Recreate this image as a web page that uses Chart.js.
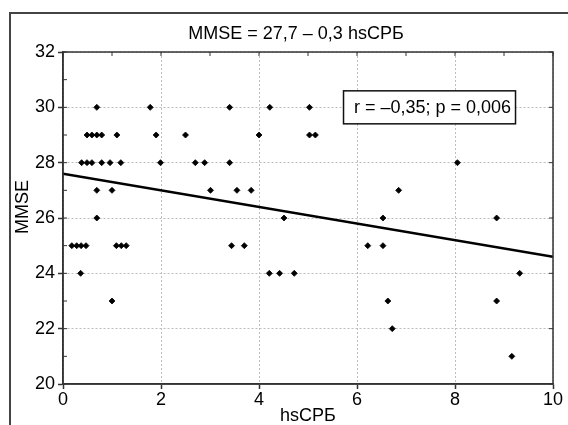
<!DOCTYPE html>
<html>
<head>
<meta charset="utf-8">
<title>MMSE vs hsCRP</title>
<script src="https://cdn.jsdelivr.net/npm/chart.js@4"></script>
<style>
    html, body { margin: 0; padding: 0; background: #fff; overflow: hidden; }
    #wrap { position: relative; width: 568px; height: 425px; }
    #frame {
        position: absolute; left: 9px; top: 12px; width: 600px; height: 450px;
        border-left: 2px solid #444; border-top: 2px solid #444;
    }
    #chart { position: absolute; left: 0; top: 0; }
</style>
</head>
<body>
<div id="wrap">
    <div id="frame"></div>
    <canvas id="chart" width="568" height="425"></canvas>
</div>
<script>

/*
============================================================
Data
============================================================
*/

const hsCrp = [
    0.69, 1.78, 3.40, 4.22, 5.03,
    0.49, 0.59, 0.69, 0.79, 1.10, 1.90, 2.50, 4.00, 5.03, 5.15,
    0.38, 0.49, 0.59, 0.79, 0.96, 1.18, 1.99, 2.70, 2.89, 3.40, 8.05,
    0.69, 1.00, 3.01, 3.55, 3.84, 6.85,
    0.69, 4.51, 6.53, 8.85,
    0.18, 0.28, 0.37, 0.47, 1.09, 1.19, 1.29, 3.44, 3.70, 6.22, 6.53,
    0.36, 4.21, 4.42, 4.72, 9.32,
    1.00, 6.63, 8.85,
    6.72,
    9.16
];

const mmse = [
    30, 30, 30, 30, 30,
    29, 29, 29, 29, 29, 29, 29, 29, 29, 29,
    28, 28, 28, 28, 28, 28, 28, 28, 28, 28, 28,
    27, 27, 27, 27, 27, 27,
    26, 26, 26, 26,
    25, 25, 25, 25, 25, 25, 25, 25, 25, 25, 25,
    24, 24, 24, 24, 24,
    23, 23, 23,
    22,
    21
];

// regression line end points
const fitX = [0, 10];

const fitY = [27.6, 24.6];

const xTicks = [0, 2, 4, 6, 8, 10];

const yTicks = [20, 22, 24, 26, 28, 30, 32];

const chartTitle = "MMSE = 27,7 \u2013 0,3 hsСРБ";

const xTitle = "hsСРБ";

const yTitle = "MMSE";

const statsText = "r = \u20130,35; p = 0,006";

// where the stats box sits, in data units
const statsAt = { x: 7.48, y: 30 };

/*
============================================================
Helpers
============================================================
*/

const FONT = '"Liberation Sans", Arial, sans-serif';

const points = hsCrp.map((x, i) => ({ x, y: mmse[i] }));

const fitPoints = fitX.map((x, i) => ({ x, y: fitY[i] }));

function line(ctx, x1, y1, x2, y2) {

    ctx.beginPath();
    ctx.moveTo(x1, y1);
    ctx.lineTo(x2, y2);
    ctx.stroke();

}

/*
============================================================
Frame, minor ticks and text
============================================================
*/

const decorPlugin = {

    id: "decor",

    afterDraw(chart) {

        const { ctx, chartArea: a, scales } = chart;
        const xs = scales.x;
        const ys = scales.y;

        ctx.save();

        ctx.strokeStyle = "#333";
        ctx.lineWidth = 1.5;
        ctx.strokeRect(a.left, a.top, a.right - a.left, a.bottom - a.top);

        ctx.lineWidth = 1;

        for (let v = xTicks[0]; v <= xTicks[xTicks.length - 1]; v++) {
            const px = xs.getPixelForValue(v);
            line(ctx, px, a.top, px, a.top + 4);
        }

        for (let v = yTicks[0]; v <= yTicks[yTicks.length - 1]; v++) {
            const py = ys.getPixelForValue(v);
            line(ctx, a.left, py, a.left + 4, py);
            if (v % 2 === 0) line(ctx, a.right - 4, py, a.right, py);
        }

        ctx.fillStyle = "#000";
        ctx.font = "18px " + FONT;
        ctx.textAlign = "center";
        ctx.textBaseline = "middle";

        ctx.fillText(chartTitle, 296, 34);

        ctx.fillText(xTitle, (a.left + a.right) / 2, 416);

        ctx.save();
        ctx.translate(23, 207);
        ctx.rotate(-Math.PI / 2);
        ctx.fillText(yTitle, 0, 0);
        ctx.restore();

        // stats box
        const cx = xs.getPixelForValue(statsAt.x);
        const cy = ys.getPixelForValue(statsAt.y);
        const w = 172;
        const h = 33;

        ctx.fillStyle = "#fff";
        ctx.fillRect(cx - w / 2, cy - h / 2, w, h);
        ctx.strokeStyle = "#111";
        ctx.lineWidth = 1.5;
        ctx.strokeRect(cx - w / 2, cy - h / 2, w, h);

        ctx.fillStyle = "#000";
        ctx.fillText(statsText, cx + 3, cy + 1);

        ctx.restore();

    }

};

/*
============================================================
Chart
============================================================
*/

Chart.defaults.font.family = FONT;
Chart.defaults.font.size = 18;
Chart.defaults.color = "#000";

const axisCommon = {

    grid: {
        color: "#bdbdbd",
        lineWidth: 1,
        tickColor: "#333",
        tickLength: 5,
        tickWidth: 1.5
    },

    border: {
        color: "#333",
        width: 1.5,
        dash: [2, 2]
    }

};

new Chart(document.getElementById("chart").getContext("2d"), {

    type: "scatter",

    data: {

        datasets: [

            {
                type: "line",
                data: fitPoints,
                borderColor: "#000",
                borderWidth: 2.5,
                pointRadius: 0,
                fill: false,
                order: 1
            },

            {
                data: points,
                pointStyle: "rectRot",
                pointRadius: 3,
                pointBorderWidth: 0.8,
                backgroundColor: "#000",
                borderColor: "#000",
                order: 2
            }

        ]

    },

    options: {

        responsive: false,
        animation: false,
        devicePixelRatio: 1,

        layout: {
            padding: { top: 52, right: 15, left: 0, bottom: 0 }
        },

        plugins: {
            legend: { display: false },
            tooltip: { enabled: false }
        },

        scales: {

            x: {
                ...axisCommon,
                type: "linear",
                min: xTicks[0],
                max: xTicks[xTicks.length - 1],
                afterBuildTicks: (s) => { s.ticks = xTicks.map(v => ({ value: v })); },
                ticks: { padding: 0, maxRotation: 0 },
                afterFit: (s) => { s.height = 41; }
            },

            y: {
                ...axisCommon,
                type: "linear",
                min: yTicks[0],
                max: yTicks[yTicks.length - 1],
                afterBuildTicks: (s) => { s.ticks = yTicks.map(v => ({ value: v })); },
                ticks: { padding: 3 },
                afterFit: (s) => { s.width = 63; }
            }

        }

    },

    plugins: [decorPlugin]

});

</script>
</body>
</html>
